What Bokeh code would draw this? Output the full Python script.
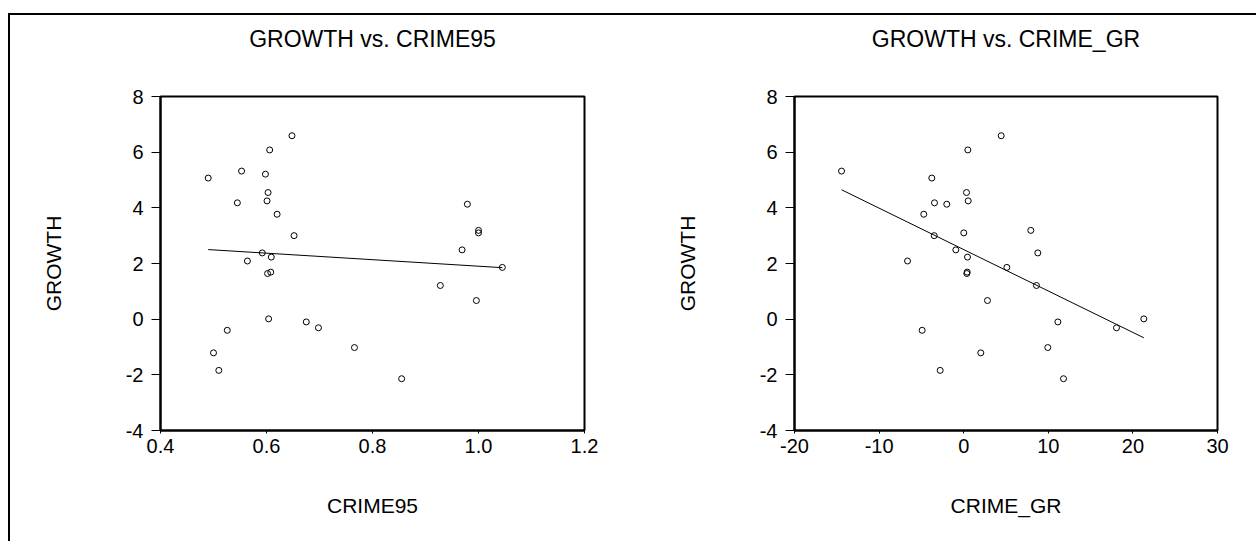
import numpy as np
from bokeh.plotting import figure
from bokeh.layouts import row
from bokeh.models import Range1d, FixedTicker, Title
from bokeh.embed import file_html
from bokeh.resources import INLINE

# ---- data ----
growth = [6.59, 6.08, 5.32, 5.21, 5.07, 4.55, 4.25, 4.18, 4.13, 3.77,
          3.19, 3.10, 3.00, 2.49, 2.38, 2.23, 2.09, 1.86, 1.69, 1.64,
          1.21, 0.67, 0.01, -0.10, -0.31, -0.40, -1.02, -1.21, -1.84, -2.14]
crime95 = [0.648, 0.606, 0.553, 0.598, 0.490, 0.603, 0.601, 0.545, 0.979, 0.620,
           1.000, 1.000, 0.652, 0.969, 0.592, 0.609, 0.564, 1.045, 0.608, 0.602,
           0.928, 0.996, 0.604, 0.675, 0.698, 0.526, 0.766, 0.500, 0.510, 0.855]
crime_gr = [4.43, 0.49, -14.44, None, -3.77, 0.33, 0.53, -3.45, -2.00, -4.72,
            7.93, 0.01, -3.49, -0.93, 8.76, 0.45, -6.64, 5.10, 0.41, 0.37,
            8.60, 2.81, 21.29, 11.13, 18.06, -4.91, 9.94, 2.02, -2.78, 11.80]

x_ticks_left = [0.4, 0.6, 0.8, 1.0, 1.2]
x_ticks_right = [-20, -10, 0, 10, 20, 30]
y_ticks = [-4, -2, 0, 2, 4, 6, 8]

FONT = "Liberation Sans"


def make_plot(xs, ys, title, xlabel, xticks, xfmt, width, mb_left, mb_right):
    pairs = [(a, b) for a, b in zip(xs, ys) if a is not None]
    x = np.array([p[0] for p in pairs], dtype=float)
    y = np.array([p[1] for p in pairs], dtype=float)
    p = figure(width=width, height=526, output_backend="svg", toolbar_location=None,
               title=None,
               x_range=Range1d(xticks[0], xticks[-1]), y_range=Range1d(-4, 8),
               min_border_left=mb_left, min_border_right=mb_right,
               min_border_top=81, min_border_bottom=111)
    # spacer between frame and title (keeps the title high above the frame)
    p.add_layout(Title(text=" ", text_font_size="1px", standoff=37), "above")
    p.add_layout(Title(text=title, align="center", text_font=FONT,
                       text_font_size="23px", text_font_style="normal",
                       text_color="black", standoff=10), "above")
    p.grid.visible = False
    p.background_fill_color = "white"
    p.border_fill_color = "white"
    p.outline_line_color = "black"
    p.outline_line_width = 2
    p.outline_line_alpha = 1

    for ax in (p.xaxis[0], p.yaxis[0]):
        ax.axis_line_color = "black"
        ax.axis_line_width = 2
        ax.major_tick_line_color = "black"
        ax.major_tick_line_width = 1
        ax.major_tick_in = 0
        ax.minor_tick_line_color = None
        ax.major_label_text_font = FONT
        ax.major_label_text_font_size = "20px"
        ax.major_label_text_color = "black"
        ax.axis_label_text_font = FONT
        ax.axis_label_text_font_size = "21px"
        ax.axis_label_text_font_style = "normal"
        ax.axis_label_text_color = "black"

    p.xaxis.ticker = FixedTicker(ticks=xticks)
    p.xaxis.major_label_overrides = {t: xfmt.format(t) for t in xticks}
    p.xaxis.major_tick_out = 3
    p.xaxis.major_label_standoff = 5
    p.xaxis.axis_label = xlabel
    p.xaxis.axis_label_standoff = 38

    p.yaxis.ticker = FixedTicker(ticks=y_ticks)
    p.yaxis.major_label_overrides = {t: str(t) for t in y_ticks}
    p.yaxis.major_tick_out = 9
    p.yaxis.major_label_standoff = 8
    p.yaxis.axis_label = "GROWTH"
    p.yaxis.axis_label_standoff = 58
    p.yaxis.major_label_orientation = "horizontal"

    # least-squares fit line computed from the data
    b, a = np.polyfit(x, y, 1)
    lx = np.array([x.min(), x.max()])
    p.line(lx, a + b * lx, line_color="black", line_width=1)

    p.scatter(x, y, size=6, marker="circle", fill_color=None,
              line_color="black", line_width=1)
    return p


p1 = make_plot(crime95, growth, "GROWTH vs. CRIME95", "CRIME95",
               x_ticks_left, "{:.1f}", 610, 150, 36)
p2 = make_plot(crime_gr, growth, "GROWTH vs. CRIME_GR", "CRIME_GR",
               x_ticks_right, "{:d}", 636, 174, 39)

layout = row(p1, p2, margin=(13, 0, 0, 8),
             styles={"border-top": "2px solid black", "border-left": "2px solid black",
                     "background-color": "white"})

open("out.html", "w").write(file_html(layout, INLINE))
